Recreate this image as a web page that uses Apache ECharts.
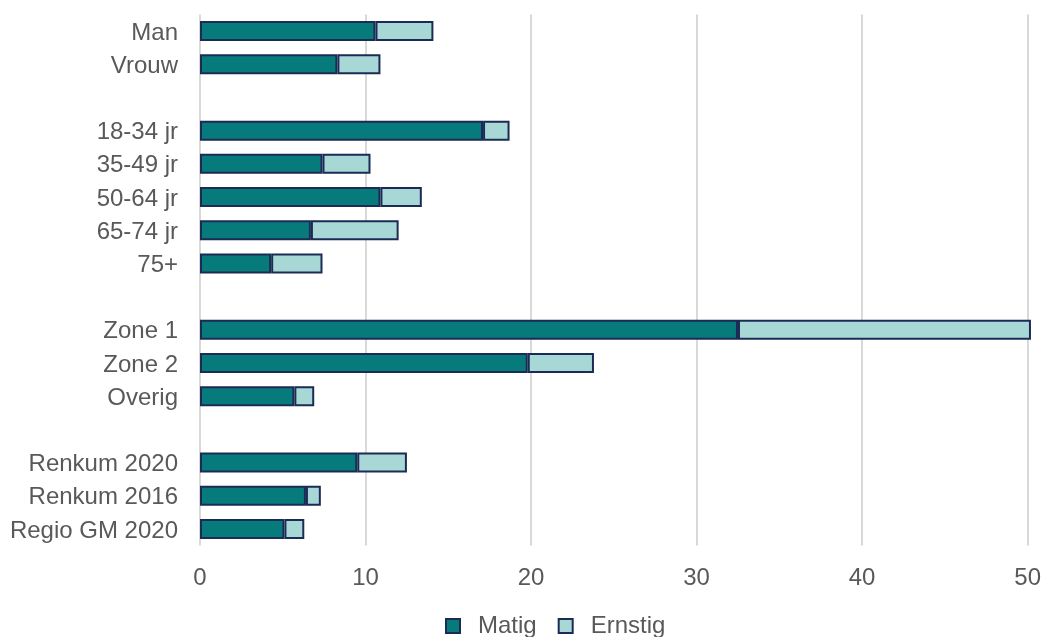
<!DOCTYPE html>
<html>
<head>
<meta charset="utf-8">
<script src="https://cdn.jsdelivr.net/npm/echarts@6/dist/echarts.min.js"></script>
<style>
  html, body { margin: 0; padding: 0; background: #fff; }
  #chart { width: 1044px; height: 637px; }
</style>
</head>
<body>
<div id="chart"></div>
<script>
// categorieen, lege regels als scheiding tussen de groepen
let categories = ['Man', 'Vrouw', '', '18-34 jr', '35-49 jr', '50-64 jr', '65-74 jr', '75+', '',
  'Zone 1', 'Zone 2', 'Overig', '', 'Renkum 2020', 'Renkum 2016', 'Regio GM 2020']
let matig = [10.6, 8.3, null, 17.1, 7.4, 10.9, 6.7, 4.3, null, 32.5, 19.8, 5.7, null, 9.5, 6.4, 5.1]
let ernstig = [3.5, 2.6, null, 1.6, 2.9, 2.5, 5.3, 3.1, null, 17.7, 4.0, 1.2, null, 3.0, 0.9, 1.2]
let xTicks = [0, 10, 20, 30, 40, 50]

let font = '"Liberation Sans", Arial, sans-serif'
let textColor = '#595959'
let navy = '#1B2B55'

let myChart = echarts.init(document.getElementById('chart'))
myChart.setOption({
  animation: false,
  grid: {
    left: 200,
    right: 15,
    top: 14.5,
    bottom: 91.5,
    containLabel: false
  },
  legend: {
    data: ['Matig', 'Ernstig'],
    left: 445,
    top: 614,
    padding: 0,
    itemWidth: 14,
    itemHeight: 14,
    itemGap: 21,
    icon: 'rect',
    itemStyle: { borderColor: navy, borderWidth: 2 },
    textStyle: {
      fontFamily: font,
      fontSize: 24,
      color: textColor,
      padding: [0, 0, 0, 13]
    }
  },
  xAxis: {
    type: 'value',
    min: xTicks[0],
    max: xTicks[xTicks.length - 1],
    interval: 10,
    axisLine: { show: false },
    axisTick: { show: false },
    splitLine: { show: true, lineStyle: { color: '#D9D9D9', width: 2 } },
    axisLabel: {
      fontFamily: font,
      fontSize: 24,
      color: textColor,
      margin: 21
    }
  },
  yAxis: {
    type: 'category',
    data: categories,
    inverse: true,
    axisLine: { show: false },
    axisTick: { show: false },
    splitLine: { show: false },
    axisLabel: {
      fontFamily: font,
      fontSize: 24,
      color: textColor,
      margin: 22,
      verticalAlign: 'top',
      padding: [-10, 0, 0, 0]
    }
  },
  series: [
    {
      name: 'Matig',
      type: 'bar',
      stack: 'totaal',
      barWidth: 20,
      clip: false,
      data: matig,
      itemStyle: { color: '#077B7B', borderColor: navy, borderWidth: 2 }
    },
    {
      name: 'Ernstig',
      type: 'bar',
      stack: 'totaal',
      barWidth: 20,
      clip: false,
      data: ernstig,
      itemStyle: { color: '#A8D8D5', borderColor: navy, borderWidth: 2 }
    }
  ]
})
</script>
</body>
</html>
